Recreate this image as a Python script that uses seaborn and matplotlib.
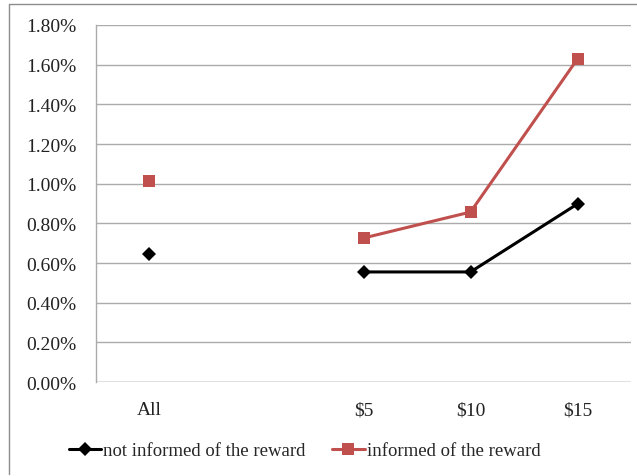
import numpy as np
import pandas as pd
import matplotlib.pyplot as plt
import seaborn as sns
from matplotlib.lines import Line2D
from matplotlib.ticker import FuncFormatter

# Data (percent)
categories = ["All", "", "$5", "$10", "$15"]
not_informed = [0.645, np.nan, 0.555, 0.555, 0.898]
informed = [1.014, np.nan, 0.726, 0.857, 1.629]
series_names = ["not informed of the reward", "informed of the reward"]

sns.set_style("white")
plt.rcParams["font.family"] = ["Liberation Serif", "DejaVu Serif"]

colors = {series_names[0]: "black", series_names[1]: "#C0504D"}
markers = {series_names[0]: "D", series_names[1]: "s"}
msizes = {series_names[0]: 7, series_names[1]: 9}

# Long format, with a segment id so the gap breaks the line
rows = []
for name, vals in zip(series_names, [not_informed, informed]):
    seg = 0
    for i, v in enumerate(vals):
        if np.isnan(v):
            seg += 1
            continue
        rows.append({"series": name, "pos": i, "value": v, "segment": seg})
df = pd.DataFrame(rows)

fig = plt.figure(figsize=(6.37, 4.77), dpi=100)
ax = fig.add_axes([0.1507, 0.197, 0.8399, 0.7485])

for name in series_names:
    sub = df[df["series"] == name]
    sns.lineplot(data=sub, x="pos", y="value", units="segment", estimator=None,
                 color=colors[name], marker=markers[name], markersize=msizes[name],
                 markeredgewidth=0, linewidth=2.2, ax=ax)

ax.set_xlim(-0.5, len(categories) - 0.5)
ax.set_ylim(0, 1.8)
ax.set_yticks(np.arange(0, 1.81, 0.2))
ax.yaxis.set_major_formatter(FuncFormatter(lambda v, p: f"{v:.2f}%"))
ax.set_xticks(range(len(categories)))
ax.set_xticklabels(categories)
ax.set_xlabel("")
ax.set_ylabel("")
ax.tick_params(axis="both", labelsize=14, length=0, colors="#222222")
ax.tick_params(axis="x", pad=14)
ax.tick_params(axis="y", pad=14)
ax.yaxis.grid(True, color="#ABABAB", linewidth=1.0)
for side in ["top", "right", "bottom"]:
    ax.spines[side].set_visible(False)
ax.spines["left"].set_color("#ABABAB")
ax.spines["left"].set_linewidth(1.0)
ax.axhline(0, color="#ABABAB", linewidth=1.0)

handles = [Line2D([0], [0], color=colors[n], marker=markers[n], markersize=msizes[n],
                  markeredgewidth=0, linewidth=2.2) for n in series_names]
fig.legend(handles, series_names, loc="center", bbox_to_anchor=(0.478, 0.053), ncol=2,
           frameon=False, fontsize=13.5, handlelength=1.75, handletextpad=0.1,
           columnspacing=1.4)

# outer chart border
fig.add_artist(Line2D([9 / 637, 9 / 637], [0.004, 1 - 5 / 477], color="#8C8C8C", linewidth=1.0))
fig.add_artist(Line2D([9 / 637, 1.0], [1 - 5 / 477, 1 - 5 / 477], color="#8C8C8C", linewidth=1.0))

fig.savefig("out.png", dpi=100)
